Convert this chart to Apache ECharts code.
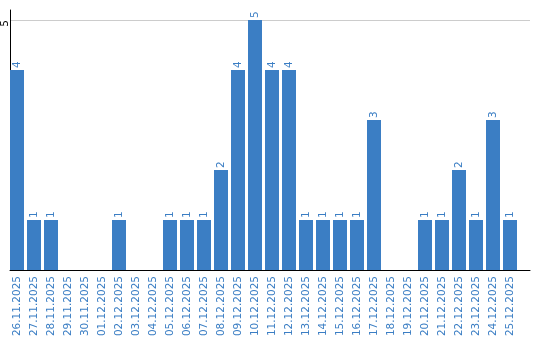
<!DOCTYPE html>
<html>
<head>
<meta charset="utf-8">
<script src="https://cdn.jsdelivr.net/npm/echarts@6/dist/echarts.min.js"></script>
<style>html,body{margin:0;padding:0;background:#fff}#c{width:540px;height:340px}</style>
</head>
<body>
<div id="c"></div>
<script>
const categories = ['26.11.2025','27.11.2025','28.11.2025','29.11.2025','30.11.2025','01.12.2025','02.12.2025','03.12.2025','04.12.2025','05.12.2025','06.12.2025','07.12.2025','08.12.2025','09.12.2025','10.12.2025','11.12.2025','12.12.2025','13.12.2025','14.12.2025','15.12.2025','16.12.2025','17.12.2025','18.12.2025','19.12.2025','20.12.2025','21.12.2025','22.12.2025','23.12.2025','24.12.2025','25.12.2025'];
const values = [4,1,1,0,0,0,1,0,0,1,1,1,2,4,5,4,4,1,1,1,1,3,0,0,1,1,2,1,3,1];
const yTicks = [5];

const blue = '#3b7ec4';
const font = 'DejaVu Sans';
const chart = echarts.init(document.getElementById('c'));
chart.setOption({
  animation: false,
  grid: [
    {left: 8.5, right: 21.5, top: 10, bottom: 70, containLabel: false, outerBoundsMode: 'none'},
    {left: 10, right: 10, top: 10, bottom: 70, containLabel: false, outerBoundsMode: 'none'}
  ],
  xAxis: [
    {gridIndex: 0, type: 'category', data: categories,
      axisLine: {show: false}, axisTick: {show: false}, splitLine: {show: false},
      axisLabel: {rotate: 90, interval: 0, margin: 6, color: blue, fontFamily: font, fontSize: 10.5}},
    {gridIndex: 1, type: 'value', min: 0, max: 1,
      axisLine: {show: true, lineStyle: {color: '#000', width: 1}}, axisTick: {show: false},
      axisLabel: {show: false}, splitLine: {show: false}}
  ],
  yAxis: [
    {gridIndex: 0, type: 'value', min: 0, max: 5.2, show: false, splitLine: {show: false}},
    {gridIndex: 1, type: 'value', min: 0, max: 5.2, interval: 5,
      axisLine: {show: true, lineStyle: {color: '#000', width: 1}}, axisTick: {show: false},
      axisLabel: {rotate: 90, margin: 5, color: '#000', fontFamily: font, fontSize: 10.5,
        align: 'right', verticalAlign: 'middle',
        showMinLabel: false, showMaxLabel: false,
        formatter: v => yTicks.includes(v) ? String(v) : ''},
      splitLine: {show: true, showMinLine: false, showMaxLine: false, lineStyle: {color: '#cccccc', width: 1}}}
  ],
  series: [{
    type: 'bar', xAxisIndex: 0, yAxisIndex: 0, data: values, barWidth: 14,
    itemStyle: {color: blue},
    label: {show: true, position: 'top', distance: 2, rotate: 90, align: 'left', verticalAlign: 'middle',
      color: blue, fontFamily: font, fontSize: 10.5,
      formatter: p => p.value > 0 ? String(p.value) : ''}
  }]
});
</script>
</body>
</html>
